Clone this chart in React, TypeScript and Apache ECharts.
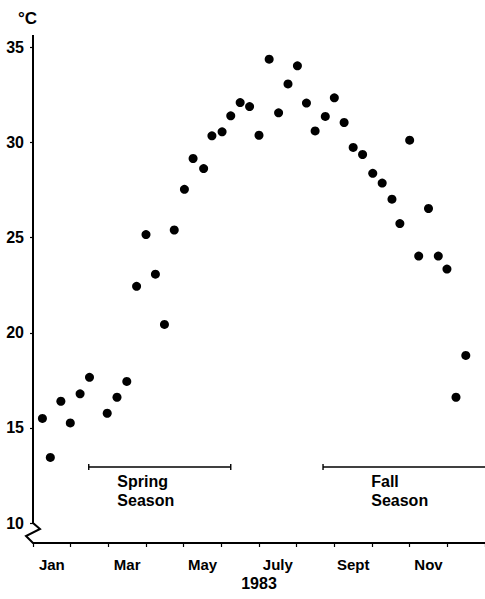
import React, { useEffect, useRef } from "react";
import * as echarts from "echarts";

// ---- data ----
const monthLabels = ["Jan", "Feb", "Mar", "Apr", "May", "June", "July", "Aug", "Sept", "Oct", "Nov", "Dec"];
const sampleMonth = [
  0.25, 0.46, 0.74, 0.99, 1.25, 1.5, 1.97, 2.23, 2.49, 2.75, 3.0, 3.25, 3.49, 3.75, 4.02,
  4.25, 4.53, 4.75, 5.02, 5.25, 5.5, 5.75, 6.0, 6.27, 6.52, 6.77, 7.02, 7.26, 7.49, 7.76,
  8.0, 8.26, 8.5, 8.75, 9.02, 9.27, 9.53, 9.74, 10.0, 10.24, 10.5, 10.76, 10.99, 11.23, 11.49,
];
const temperatureC = [
  15.5, 13.45, 16.4, 15.26, 16.79, 17.66, 15.77, 16.61, 17.44, 22.44, 25.16, 23.08, 20.44, 25.4, 27.54,
  29.16, 28.63, 30.35, 30.56, 31.4, 32.1, 31.89, 30.38, 34.38, 31.56, 33.08, 34.03, 32.07, 30.61, 31.37,
  32.35, 31.05, 29.74, 29.37, 28.38, 27.87, 27.02, 25.74, 30.12, 24.03, 26.53, 24.03, 23.35, 16.61, 18.81,
];
const yTicks = [10, 15, 20, 25, 30, 35];
const yMin = 8.95;
const yMax = 35.65;
const yBreakAt = 10;
const seasonNames = ["Spring\nSeason", "Fall\nSeason"];
const seasonStart = [1.48, 7.7];
const seasonEnd = [5.25, 12];
const seasonLevel = 12.95;
const seasonLabelX = [2.24, 8.98];
const seasonLabelY = 12.66;
const yearLabel = "1983";
const unitLabel = "°C";

const FONT = "'Liberation Sans', Arial, Helvetica, sans-serif";
const INK = "#000";

export default function App() {
  const ref = useRef<HTMLDivElement>(null);
  useEffect(() => {
    document.body.style.margin = "0";
    if (!ref.current) return;
    const chart = echarts.init(ref.current, null, { renderer: "svg" });
    const textStyle = { color: INK, fontFamily: FONT, fontWeight: "bold" as const, fontSize: 15 };
    chart.setOption({
      animation: false,
      backgroundColor: "#fff",
      grid: { left: 33, width: 456, top: 35, bottom: 56 },
      xAxis: [
        {
          type: "value",
          min: 0,
          max: 12,
          interval: 1,
          axisLine: { onZero: false, lineStyle: { color: INK, width: 2 } },
          axisTick: { show: true, length: 4, lineStyle: { color: INK, width: 1.2 } },
          axisLabel: { show: false },
          splitLine: { show: false },
          name: yearLabel,
          nameLocation: "middle",
          nameGap: 32,
          nameTextStyle: { ...textStyle, fontSize: 16 },
        },
        {
          type: "category",
          data: monthLabels,
          position: "bottom",
          boundaryGap: true,
          axisLine: { show: false },
          axisTick: { show: false },
          axisLabel: { interval: 1, margin: 14, ...textStyle },
          splitLine: { show: false },
        },
      ],
      yAxis: {
        type: "value",
        min: yMin,
        max: yMax,
        axisLine: { show: false },
        axisTick: { show: true, length: 3, customValues: yTicks, lineStyle: { color: INK, width: 1.2 } },
        axisLabel: { customValues: yTicks, margin: 9, ...textStyle, fontSize: 16 },
        splitLine: { show: false },
      },
      series: [
        {
          type: "scatter",
          xAxisIndex: 0,
          yAxisIndex: 0,
          symbol: "circle",
          symbolSize: 9,
          itemStyle: { color: INK, opacity: 1 },
          data: sampleMonth.map((m, i) => [m, temperatureC[i]]),
          silent: true,
        },
        ...seasonStart.map((s, i) => ({
          type: "line",
          xAxisIndex: 0,
          yAxisIndex: 0,
          symbol: "rect",
          symbolSize: [1.4, 6],
          showSymbol: true,
          itemStyle: { color: INK, opacity: 1 },
          lineStyle: { color: INK, width: 1.5 },
          silent: true,
          data: [
            { value: [s, seasonLevel] },
            seasonEnd[i] >= 12 ? { value: [seasonEnd[i], seasonLevel], symbol: "none" } : { value: [seasonEnd[i], seasonLevel] },
          ],
        })),
      ],
    });

    const p = (x: number, y: number) => chart.convertToPixel({ xAxisIndex: 0, yAxisIndex: 0 }, [x, y]) as number[];
    const top = p(0, yMax);
    const brk = p(0, yBreakAt);
    const bot = p(0, yMin);
    const span = bot[1] - brk[1];
    chart.setOption({
      graphic: [
        {
          type: "polyline",
          shape: {
            points: [
              [top[0], top[1]],
              [brk[0], brk[1]],
              [brk[0] + 7, brk[1] + span * 0.3],
              [brk[0] - 7, brk[1] + span * 0.65],
              [bot[0], bot[1]],
            ],
          },
          style: { stroke: INK, lineWidth: 2, fill: "none" },
          silent: true,
        },
        ...seasonNames.map((t, i) => {
          const q = p(seasonLabelX[i], seasonLabelY);
          return {
            type: "text",
            x: q[0],
            y: q[1],
            silent: true,
            style: {
              text: t,
              fill: INK,
              font: `bold 16px ${FONT}`,
              lineHeight: 19,
              align: "left",
              verticalAlign: "top",
            },
          };
        }),
        {
          type: "text",
          left: 18,
          top: 10,
          silent: true,
          style: { text: unitLabel, fill: INK, font: `bold 17px ${FONT}` },
        },
      ],
    });
    return () => chart.dispose();
  }, []);
  return <div ref={ref} style={{ width: 485, height: 599 }} />;
}
